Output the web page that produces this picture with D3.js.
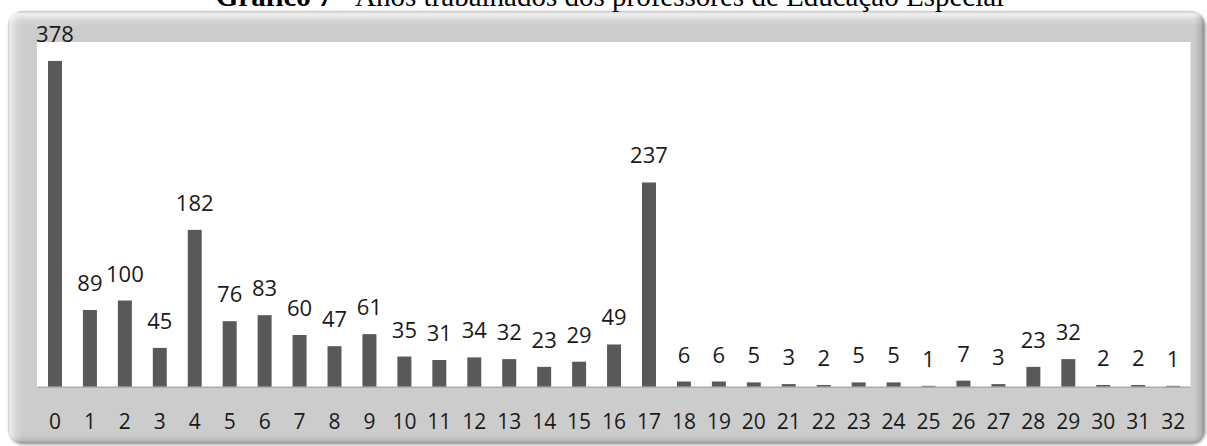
<!DOCTYPE html>
<html>
<head>
<meta charset="utf-8">
<script src="https://cdn.jsdelivr.net/npm/d3@7/dist/d3.min.js"></script>
<style>
  html, body { margin: 0; padding: 0; background: #ffffff; }
  svg { display: block; }
</style>
</head>
<body>
<svg id="chart" width="1207" height="446"></svg>
<script>
// Years worked (0–32) and number of teachers for each
const categories = ["0","1","2","3","4","5","6","7","8","9","10","11","12","13","14","15","16",
                    "17","18","19","20","21","22","23","24","25","26","27","28","29","30","31","32"];
const values = [378, 89, 100, 45, 182, 76, 83, 60, 47, 61, 35, 31, 34, 32, 23, 29, 49,
                237, 6, 6, 5, 3, 2, 5, 5, 1, 7, 3, 23, 32, 2, 2, 1];
const yDomain = [0, 400];
const titleText = ["Gráfico 7", " - Anos trabalhados dos professores de Educação Especial"];

const W = 1207, H = 446;
const frame = { x: 8, y: 11, w: 1196, h: 432, r: 14 };
const plot = { left: 37.5, right: 1190.6, top: 42, bottom: 386.7 };

const svg = d3.select("#chart");
const defs = svg.append("defs");

// Bevelled frame gradients
const vg = defs.append("linearGradient").attr("id", "bevel")
  .attr("gradientUnits", "userSpaceOnUse")
  .attr("x1", 0).attr("y1", frame.y).attr("x2", 0).attr("y2", frame.y + frame.h);
[[0, "#c6c6c6"], [3, "#f2f2f2"], [6, "#e4e4e4"], [9, "#d8d8d8"], [15, "#cccccc"],
 [frame.h - 8, "#cccccc"], [frame.h - 3, "#bdbdbd"], [frame.h, "#9a9a9a"]]
  .forEach(([o, c]) => vg.append("stop").attr("offset", o / frame.h).attr("stop-color", c));

const hg = defs.append("linearGradient").attr("id", "sideLight")
  .attr("gradientUnits", "userSpaceOnUse")
  .attr("x1", frame.x).attr("y1", 0).attr("x2", frame.x + frame.w).attr("y2", 0);
[[0, "#ffffff", 0.0], [2, "#ffffff", 0.6], [8, "#ffffff", 0.2], [14, "#ffffff", 0],
 [frame.w - 10, "#000000", 0], [frame.w - 3, "#000000", 0.12], [frame.w, "#000000", 0.3]]
  .forEach(([o, c, a]) => hg.append("stop").attr("offset", o / frame.w)
    .attr("stop-color", c).attr("stop-opacity", a));

const blur = defs.append("filter").attr("id", "soft").attr("x", "-5%").attr("y", "-5%")
  .attr("width", "110%").attr("height", "110%");
blur.append("feGaussianBlur").attr("stdDeviation", 1.5);

// Drop shadow, frame, lighting
svg.append("rect").attr("x", frame.x + 1.5).attr("y", frame.y + 1.5)
  .attr("width", frame.w).attr("height", frame.h).attr("rx", frame.r)
  .attr("fill", "#8f8f8f").attr("filter", "url(#soft)");
svg.append("rect").attr("x", frame.x).attr("y", frame.y)
  .attr("width", frame.w).attr("height", frame.h).attr("rx", frame.r)
  .attr("fill", "url(#bevel)");
svg.append("rect").attr("x", frame.x).attr("y", frame.y)
  .attr("width", frame.w).attr("height", frame.h).attr("rx", frame.r)
  .attr("fill", "url(#sideLight)");

// Plot area
svg.append("rect").attr("x", plot.left - 0.5).attr("y", plot.top)
  .attr("width", plot.right - plot.left + 0.5).attr("height", plot.bottom - plot.top)
  .attr("fill", "#ffffff");

const x = d3.scaleBand().domain(categories).range([plot.left, plot.right])
  .paddingInner(0.6).paddingOuter(0.3);
const y = d3.scaleLinear().domain(yDomain).range([plot.bottom, plot.top]);

const data = categories.map((c, i) => ({ c, v: values[i] }));

svg.append("g").selectAll("rect").data(data).join("rect")
  .attr("x", d => x(d.c))
  .attr("y", d => y(d.v))
  .attr("width", x.bandwidth())
  .attr("height", d => y(0) - y(d.v))
  .attr("fill", "#595959");

// Category axis
const axis = svg.append("g").attr("transform", `translate(0,${plot.bottom})`)
  .call(d3.axisBottom(x).tickSize(0).tickPadding(27));
axis.select(".domain").attr("stroke", "#9d9d9d").attr("d", `M${plot.left},0.5H${plot.right}`);
axis.selectAll("text")
  .attr("font-family", "'Open Sans', sans-serif")
  .attr("font-size", 21)
  .attr("fill", "#1a1a1a");

// Value labels
svg.append("g").selectAll("text").data(data).join("text")
  .attr("x", d => x(d.c) + x.bandwidth() / 2)
  .attr("y", d => y(d.v) - 19)
  .attr("text-anchor", "middle")
  .attr("font-family", "'Open Sans', sans-serif")
  .attr("font-size", 22)
  .attr("fill", "#1a1a1a")
  .text(d => d.v);

// Title (sits at the very top edge of the page)
const title = svg.append("text")
  .attr("x", 610).attr("y", 6)
  .attr("text-anchor", "middle")
  .attr("font-family", "'Liberation Serif', 'Times New Roman', serif")
  .attr("font-size", 29)
  .attr("fill", "#000");
title.append("tspan").attr("font-weight", "bold").text(titleText[0]);
title.append("tspan").text(titleText[1]);
</script>
</body>
</html>
